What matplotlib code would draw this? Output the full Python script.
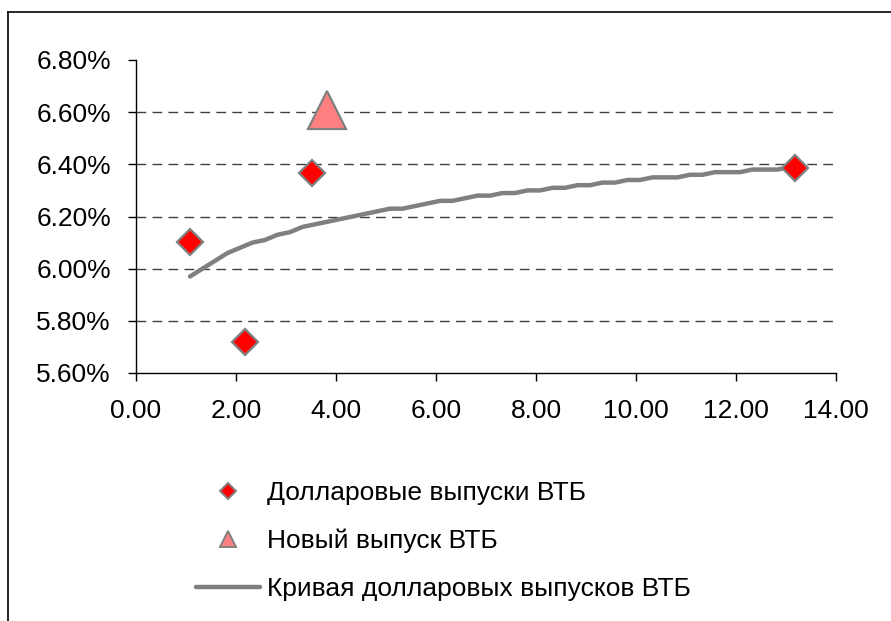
import matplotlib
matplotlib.use("Agg")
import matplotlib.pyplot as plt
from matplotlib.lines import Line2D
from matplotlib.ticker import MultipleLocator, FuncFormatter

# =========================
# Шрифт
# =========================
plt.rcParams['font.family'] = ['Liberation Sans', 'DejaVu Sans']

# =========================
# Данные (дюрация, лет; доходность, %)
# =========================
bonds_x = [1.08, 2.17, 3.51, 13.18]
bonds_y = [6.103, 5.72, 6.368, 6.387]

new_x = [3.81]
new_y = [6.607]

curve_x = [1.08, 1.33, 1.58, 1.83, 2.08, 2.33, 2.58, 2.83, 3.08, 3.33,
           3.58, 3.83, 4.08, 4.33, 4.58, 4.83, 5.08, 5.33, 5.58, 5.83,
           6.08, 6.33, 6.58, 6.83, 7.08, 7.33, 7.58, 7.83, 8.08, 8.33,
           8.58, 8.83, 9.08, 9.33, 9.58, 9.83, 10.08, 10.33, 10.58, 10.83,
           11.08, 11.33, 11.58, 11.83, 12.08, 12.33, 12.58, 12.83, 13.08, 13.18]
curve_y = [5.97, 6.00, 6.03, 6.06, 6.08, 6.10, 6.11, 6.13, 6.14, 6.16,
           6.17, 6.18, 6.19, 6.20, 6.21, 6.22, 6.23, 6.23, 6.24, 6.25,
           6.26, 6.26, 6.27, 6.28, 6.28, 6.29, 6.29, 6.30, 6.30, 6.31,
           6.31, 6.32, 6.32, 6.33, 6.33, 6.34, 6.34, 6.35, 6.35, 6.35,
           6.36, 6.36, 6.37, 6.37, 6.37, 6.38, 6.38, 6.38, 6.39, 6.39]

labels = ['Долларовые выпуски ВТБ', 'Новый выпуск ВТБ',
          'Кривая долларовых выпусков ВТБ']
grid_y = [5.80, 6.00, 6.20, 6.40, 6.60]

GRAY = '#808080'
FS = 19

# =========================
# График
# =========================
fig = plt.figure(figsize=(8.91, 6.21), dpi=100)
ax = fig.add_axes([136 / 891, 1 - 373 / 621, 700 / 891, 313 / 621])

for gy in grid_y:
    ax.axhline(gy, color='#404040', lw=1, dashes=(7, 4.5), zorder=1)

ax.plot(curve_x, curve_y, color=GRAY, lw=3.2, solid_capstyle='round', zorder=2)
ax.plot(bonds_x, bonds_y, ls='none', marker='D', ms=13, mfc='red',
        mec=GRAY, mew=1.6, zorder=3)
ax.plot(new_x, new_y, ls='none', marker='^', ms=28, mfc='#FF8080',
        mec=GRAY, mew=1.6, zorder=3)

ax.set_xlim(0, 14)
ax.set_ylim(5.60, 6.80)
ax.xaxis.set_major_locator(MultipleLocator(2))
ax.yaxis.set_major_locator(MultipleLocator(0.2))
ax.xaxis.set_major_formatter(FuncFormatter(lambda v, p: f'{v:.2f}'))
ax.yaxis.set_major_formatter(FuncFormatter(lambda v, p: f'{v:.2f}%'))

for side in ['top', 'right']:
    ax.spines[side].set_visible(False)
for side in ['left', 'bottom']:
    ax.spines[side].set_color('black')
    ax.spines[side].set_linewidth(1)
ax.tick_params(direction='out', length=6, width=1, labelsize=FS)
ax.tick_params(axis='y', pad=12)
ax.tick_params(axis='x', pad=13)

# =========================
# Легенда
# =========================
handles = [
    Line2D([], [], ls='none', marker='D', ms=8, mfc='red', mec=GRAY, mew=1.4),
    Line2D([], [], ls='none', marker='^', ms=12, mfc='#FF8080', mec=GRAY, mew=1.4),
    Line2D([], [], color=GRAY, lw=3.2, solid_capstyle='round'),
]
fig.legend(handles, labels, loc='upper left', bbox_to_anchor=(196 / 891, 1 - 481 / 621),
           frameon=False, fontsize=FS, handlelength=2.42, handletextpad=0.28,
           labelspacing=0.9, borderpad=0, borderaxespad=0)

# Рамка области диаграммы (обрезана справа и снизу)
fig.add_artist(Line2D([8 / 891, 8 / 891], [0, 1 - 12 / 621], color='black', lw=1.2))
fig.add_artist(Line2D([8 / 891, 1], [1 - 12 / 621, 1 - 12 / 621], color='black', lw=1.2))

fig.savefig('out.png', dpi=100)
plt.close(fig)
